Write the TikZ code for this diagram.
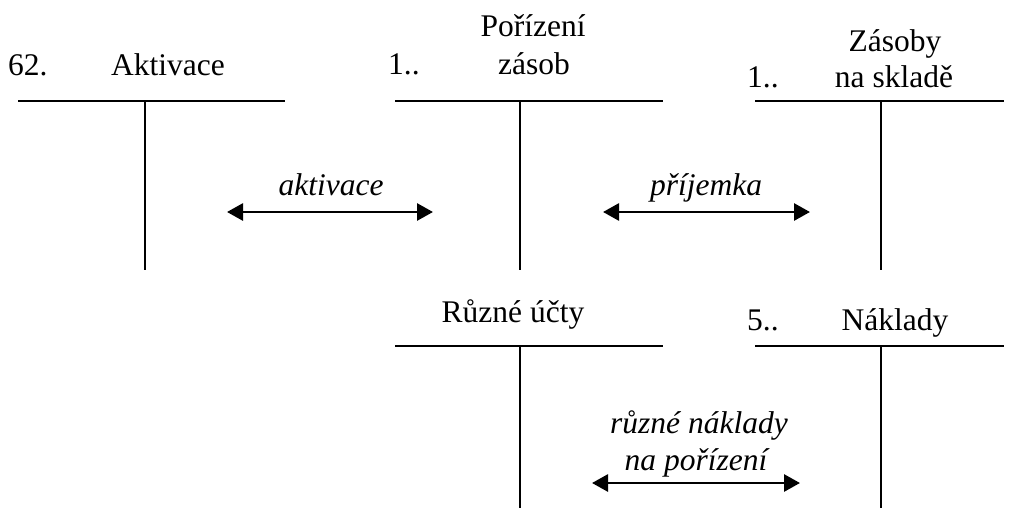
\documentclass[tikz,border=0pt]{standalone}
\usepackage{fontspec}
\setmainfont{Liberation Serif}
\usetikzlibrary{arrows.meta}
\begin{document}
\begin{tikzpicture}[x=1pt,y=-1pt,
  tline/.style={line width=2.3pt},
  dbl/.style={line width=2.8pt,{Triangle[length=16pt,width=17pt]}-{Triangle[length=16pt,width=17pt]}},
  lbl/.style={anchor=base,inner sep=0pt,font=\fontsize{31.5}{36}\selectfont},
  ilbl/.style={lbl,font=\fontsize{31.5}{36}\selectfont\itshape}]
\useasboundingbox (0,0) rectangle (1011,508);
% Account 1: Aktivace
\coordinate (a1l) at (18,101); \coordinate (a1r) at (285,101);
\coordinate (a1t) at (145,101); \coordinate (a1b) at (145,270);
\draw[tline] (a1l) -- (a1r); \draw[tline] (a1t) -- (a1b);
\node[lbl,anchor=base west] (n62) at (8,76) {62.};
\node[lbl] (akt) at (168,76) {Aktivace};
% Account 2: Pořízení zásob
\coordinate (a2l) at (395,101); \coordinate (a2r) at (663,101);
\coordinate (a2t) at (520,101); \coordinate (a2b) at (520,270);
\draw[tline] (a2l) -- (a2r); \draw[tline] (a2t) -- (a2b);
\node[lbl,anchor=base west] (n1a) at (388,75) {1..};
\node[lbl] (por1) at (533,37) {Pořízení};
\node[lbl] (por2) at (534,75) {zásob};
% Account 3: Zásoby na skladě
\coordinate (a3l) at (755,101); \coordinate (a3r) at (1004,101);
\coordinate (a3t) at (881,101); \coordinate (a3b) at (881,270);
\draw[tline] (a3l) -- (a3r); \draw[tline] (a3t) -- (a3b);
\node[lbl,anchor=base west] (n1b) at (747,88) {1..};
\node[lbl] (zas1) at (895,52) {Zásoby};
\node[lbl] (zas2) at (894,88) {na skladě};
% Account 4: Různé účty
\coordinate (a4l) at (395,346); \coordinate (a4r) at (663,346);
\coordinate (a4t) at (520,346); \coordinate (a4b) at (520,508);
\draw[tline] (a4l) -- (a4r); \draw[tline] (a4t) -- (a4b);
\node[lbl] (ruz) at (513,322) {Různé účty};
% Account 5: Náklady
\coordinate (a5l) at (755,346); \coordinate (a5r) at (1004,346);
\coordinate (a5t) at (881,346); \coordinate (a5b) at (881,508);
\draw[tline] (a5l) -- (a5r); \draw[tline] (a5t) -- (a5b);
\node[lbl,anchor=base west] (n5) at (747,330) {5..};
\node[lbl] (nak) at (895,330) {Náklady};
% Arrows
\coordinate (r1l) at (227,212); \coordinate (r1r) at (433,212);
\draw[dbl] (r1l) -- (r1r);
\node[ilbl] (lakt) at (331,195) {aktivace};
\coordinate (r2l) at (603,212); \coordinate (r2r) at (810,212);
\draw[dbl] (r2l) -- (r2r);
\node[ilbl] (lpri) at (706,195) {příjemka};
\coordinate (r3l) at (592,483); \coordinate (r3r) at (800,483);
\draw[dbl] (r3l) -- (r3r);
\node[ilbl] (lrn1) at (699,433) {různé náklady};
\node[ilbl] (lrn2) at (696,470) {na pořízení};
\end{tikzpicture}
\end{document}
